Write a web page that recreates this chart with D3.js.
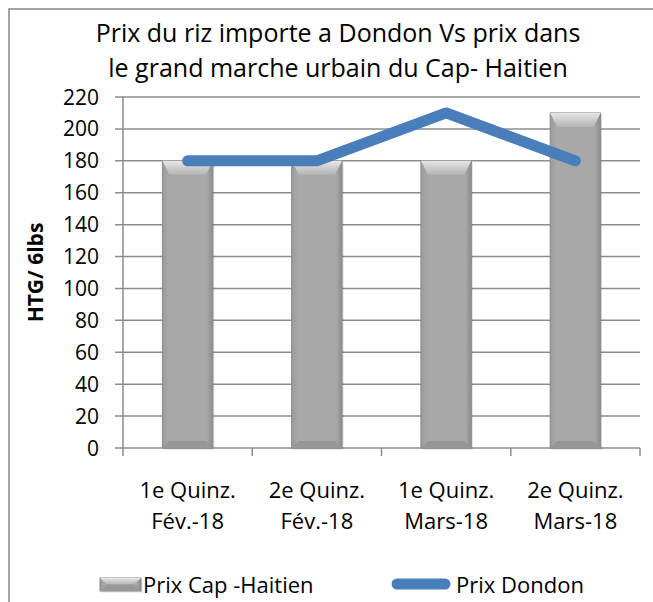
<!DOCTYPE html>
<html>
<head>
<meta charset="utf-8">
<script src="https://cdn.jsdelivr.net/npm/d3@7"></script>
<style>
	body { margin: 0; background: #fff; }
	text { font-family: "Open Sans", "Liberation Sans", sans-serif; fill: #000; }
</style>
</head>
<body>
<svg id="chart" width="653" height="602"></svg>
<script>
// data
var categories = [["1e Quinz.", "Fév.-18"], ["2e Quinz.", "Fév.-18"], ["1e Quinz.", "Mars-18"], ["2e Quinz.", "Mars-18"]];
var prixCap = [180, 180, 180, 210];
var prixDondon = [180, 180, 210, 180];
var yTicks = [0, 20, 40, 60, 80, 100, 120, 140, 160, 180, 200, 220];
var titleLines = ["Prix du riz importe a Dondon Vs prix dans", "le grand marche urbain du Cap- Haitien"];

var svg = d3.select("#chart"),
	WIDTH = 653,
	HEIGHT = 602,
	MARGINS = { top: 97, right: 13, bottom: 154, left: 123 };

var keys = categories.map(function(c, i) { return i; });

var xScale = d3.scaleBand()
	.domain(keys)
	.range([MARGINS.left, WIDTH - MARGINS.right])
	.paddingInner(0.61)
	.paddingOuter(0.305);
var xOuter = d3.scaleBand()
	.domain(keys)
	.range([MARGINS.left, WIDTH - MARGINS.right]);
var yScale = d3.scaleLinear()
	.domain([0, 220])
	.range([HEIGHT - MARGINS.bottom, MARGINS.top]);

// chart border
svg.append("rect")
	.attr("x", 9).attr("y", 9)
	.attr("width", WIDTH).attr("height", HEIGHT)
	.attr("fill", "none").attr("stroke", "#868686").attr("stroke-width", 1.5);

// gradients for the bevel bars
var defs = svg.append("defs");
var g1 = defs.append("linearGradient").attr("id", "barFill").attr("x1", 0).attr("x2", 1).attr("y1", 0).attr("y2", 0);
g1.append("stop").attr("offset", "0%").attr("stop-color", "#9a9a9a");
g1.append("stop").attr("offset", "12%").attr("stop-color", "#a8a8a8");
g1.append("stop").attr("offset", "88%").attr("stop-color", "#a8a8a8");
g1.append("stop").attr("offset", "100%").attr("stop-color", "#8c8c8c");
var g2 = defs.append("linearGradient").attr("id", "bevelTop").attr("x1", 0).attr("x2", 0).attr("y1", 0).attr("y2", 1);
g2.append("stop").attr("offset", "0%").attr("stop-color", "#e6e6e6");
g2.append("stop").attr("offset", "100%").attr("stop-color", "#b4b4b4");

// gridlines
svg.append("g")
	.selectAll("line")
	.data(yTicks)
	.enter().append("line")
	.attr("x1", MARGINS.left - 8)
	.attr("x2", WIDTH - MARGINS.right)
	.attr("y1", function(d) { return yScale(d); })
	.attr("y2", function(d) { return yScale(d); })
	.attr("stroke", "#8c8c8c")
	.attr("stroke-width", 1.5);

// y axis
svg.append("line")
	.attr("x1", MARGINS.left).attr("x2", MARGINS.left)
	.attr("y1", yScale(220)).attr("y2", yScale(0))
	.attr("stroke", "#8c8c8c").attr("stroke-width", 1.5);

svg.append("g")
	.selectAll("text")
	.data(yTicks)
	.enter().append("text")
	.attr("x", MARGINS.left - 24)
	.attr("y", function(d) { return yScale(d); })
	.attr("dy", "0.36em")
	.attr("text-anchor", "end")
	.style("font-size", "21px")
	.text(function(d) { return d; });

// x category ticks
var xTickPos = keys.map(function(k) { return xOuter(k); }).concat([WIDTH - MARGINS.right]);
svg.append("g")
	.selectAll("line")
	.data(xTickPos)
	.enter().append("line")
	.attr("x1", function(d) { return d; })
	.attr("x2", function(d) { return d; })
	.attr("y1", yScale(0))
	.attr("y2", yScale(0) + 8)
	.attr("stroke", "#8c8c8c").attr("stroke-width", 1.5);

var xLabels = svg.append("g")
	.selectAll("text")
	.data(categories)
	.enter().append("text")
	.attr("text-anchor", "middle")
	.style("font-size", "22px");
xLabels.each(function(c, i) {
	var t = d3.select(this);
	c.forEach(function(line, j) {
		t.append("tspan")
			.attr("x", xOuter(i) + xOuter.bandwidth() / 2)
			.attr("y", 498 + j * 31)
			.text(line);
	});
});

// bevelled bar drawing
function bevelBar(g, x, y, w, h) {
	var b = 7;
	g.append("rect").attr("x", x + 1.5).attr("y", y + 1.5).attr("width", w).attr("height", h)
		.attr("fill", "#000").attr("opacity", 0.12);
	g.append("rect").attr("x", x).attr("y", y).attr("width", w).attr("height", h)
		.attr("fill", "url(#barFill)").attr("stroke", "#8a8a8a").attr("stroke-width", 1);
	g.append("path")
		.attr("d", "M" + x + "," + y + "L" + (x + w) + "," + y + "L" + (x + w - b) + "," + (y + Math.min(b * 2, h / 2)) + "L" + (x + b) + "," + (y + Math.min(b * 2, h / 2)) + "Z")
		.attr("fill", "url(#bevelTop)");
	g.append("path")
		.attr("d", "M" + x + "," + (y + h) + "L" + (x + w) + "," + (y + h) + "L" + (x + w - b) + "," + (y + h - Math.min(b, h / 2)) + "L" + (x + b) + "," + (y + h - Math.min(b, h / 2)) + "Z")
		.attr("fill", "#979797");
}

var bars = svg.append("g");
prixCap.forEach(function(v, i) {
	bevelBar(bars, xScale(i), yScale(v), xScale.bandwidth(), yScale(0) - yScale(v));
});

// line series
var lineGen = d3.line()
	.x(function(d, i) { return xOuter(i) + xOuter.bandwidth() / 2; })
	.y(function(d) { return yScale(d); });

svg.append("path")
	.attr("d", lineGen(prixDondon))
	.attr("fill", "none")
	.attr("stroke", "#4a7ebb")
	.attr("stroke-width", 11)
	.attr("stroke-linecap", "round")
	.attr("stroke-linejoin", "round");

// title
svg.append("g")
	.selectAll("text")
	.data(titleLines)
	.enter().append("text")
	.attr("x", 338)
	.attr("y", function(d, i) { return 42 + i * 35; })
	.attr("text-anchor", "middle")
	.style("font-size", "25px")
	.text(function(d) { return d; });

// y axis title
svg.append("text")
	.attr("transform", "translate(43," + yScale(110) + ") rotate(-90)")
	.attr("text-anchor", "middle")
	.style("font-size", "21px")
	.style("font-weight", "bold")
	.text("HTG/ 6lbs");

// legend
var legend = svg.append("g");
bevelBar(legend, 100, 578, 41, 13);
legend.append("text").attr("x", 143).attr("y", 585).attr("dy", "0.36em")
	.style("font-size", "22px").text("Prix Cap -Haitien");
legend.append("line")
	.attr("x1", 397).attr("x2", 445).attr("y1", 584).attr("y2", 584)
	.attr("stroke", "#4a7ebb").attr("stroke-width", 11).attr("stroke-linecap", "round");
legend.append("text").attr("x", 456).attr("y", 585).attr("dy", "0.36em")
	.style("font-size", "22px").text("Prix Dondon");
</script>
</body>
</html>
